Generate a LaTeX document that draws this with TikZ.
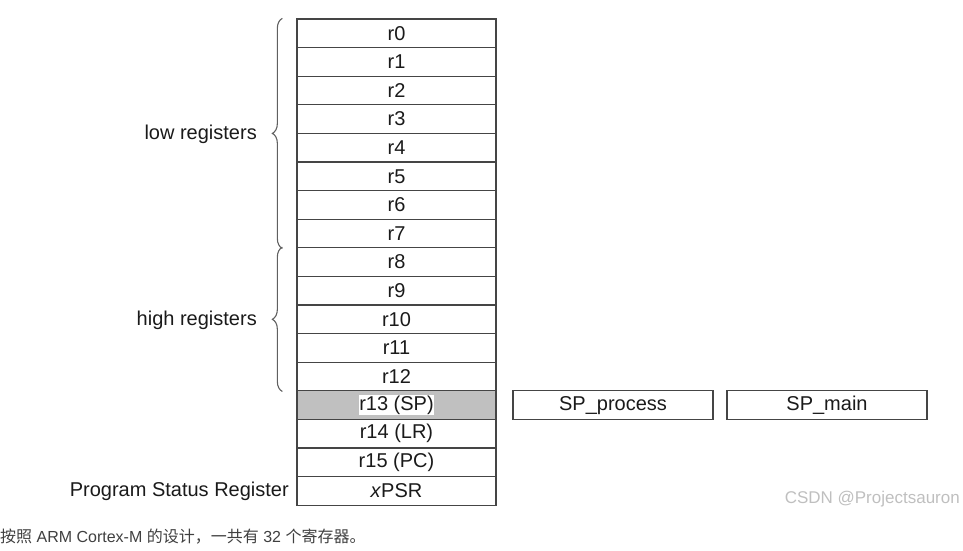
\documentclass[tikz,border=0pt]{standalone}
\usepackage{fontspec}
\setmainfont{Liberation Sans}
\newfontfamily\cjk{Noto Sans CJK SC}
\usetikzlibrary{decorations.pathreplacing}
\definecolor{boxline}{HTML}{454545}
\definecolor{txt}{HTML}{1A1A1A}
\definecolor{spgray}{HTML}{C0C0C0}
\definecolor{bracecol}{HTML}{606060}
\tikzset{
  reg/.style={draw=boxline, line width=1.3pt, minimum width=199pt, minimum height=28.6pt, inner sep=0pt, text=txt, font=\fontsize{20}{23}\selectfont},
  lbl/.style={anchor=east, inner sep=0pt, text=txt, font=\fontsize{20}{23}\selectfont},
  brc/.style={draw=bracecol, line width=1.1pt, decorate, decoration={brace, amplitude=10pt}}
}
\begin{document}
\begin{tikzpicture}[x=1pt, y=-1pt]
\useasboundingbox (0,0) rectangle (963,550);
\foreach \i/\t in {0/r0,1/r1,2/r2,3/r3,4/r4,5/r5,6/r6,7/r7,8/r8,9/r9,10/r10,11/r11,12/r12} {
  \node[reg] (r\i) at (396.5, {19+28.6*(\i+0.5)}) {\t};
}
\node[reg, fill=spgray] (r13) at (396.5, {19+28.6*13.5}) {};
\node[fill=white, inner sep=0.5pt, text=txt, font=\fontsize{20}{23}\selectfont] (r13t) at (r13.center) {r13 (SP)};
\node[reg] (r14) at (396.5, {19+28.6*14.5}) {r14 (LR)};
\node[reg] (r15) at (396.5, {19+28.6*15.5}) {r15 (PC)};
\node[reg] (psr) at (396.5, {19+28.6*16.5}) {\textit{x}PSR};
\node[reg, minimum width=200pt] (spp) at (613, {19+28.6*13.5}) {SP\_process\vphantom{Sh}};
\node[reg, minimum width=200pt] (spm) at (827, {19+28.6*13.5}) {SP\_main\vphantom{p}};
\draw[brc] ([xshift=-14pt]r7.south west) -- ([xshift=-14pt]r0.north west);
\draw[brc] ([xshift=-14pt]r12.south west) -- ([xshift=-14pt]r8.north west);
\node[lbl] (low) at (257, {19+28.6*4+1}) {low registers};
\node[lbl] (high) at (257, {19+28.6*10.5+1}) {high registers};
\node[lbl] (psrl) at (289, {19+28.6*16.5}) {Program Status Register};
\node[anchor=east, inner sep=0pt, text=black!25, font=\fontsize{17}{20}\selectfont] (wm) at (960, 499) {CSDN @Projectsauron};
\node[anchor=west, inner sep=0pt, text=black!75, font=\fontsize{16}{19}\selectfont] (cap) at (0, 537) {{\cjk 按照} ARM Cortex-M {\cjk 的设计，一共有} 32 {\cjk 个寄存器。}};
\end{tikzpicture}
\end{document}
